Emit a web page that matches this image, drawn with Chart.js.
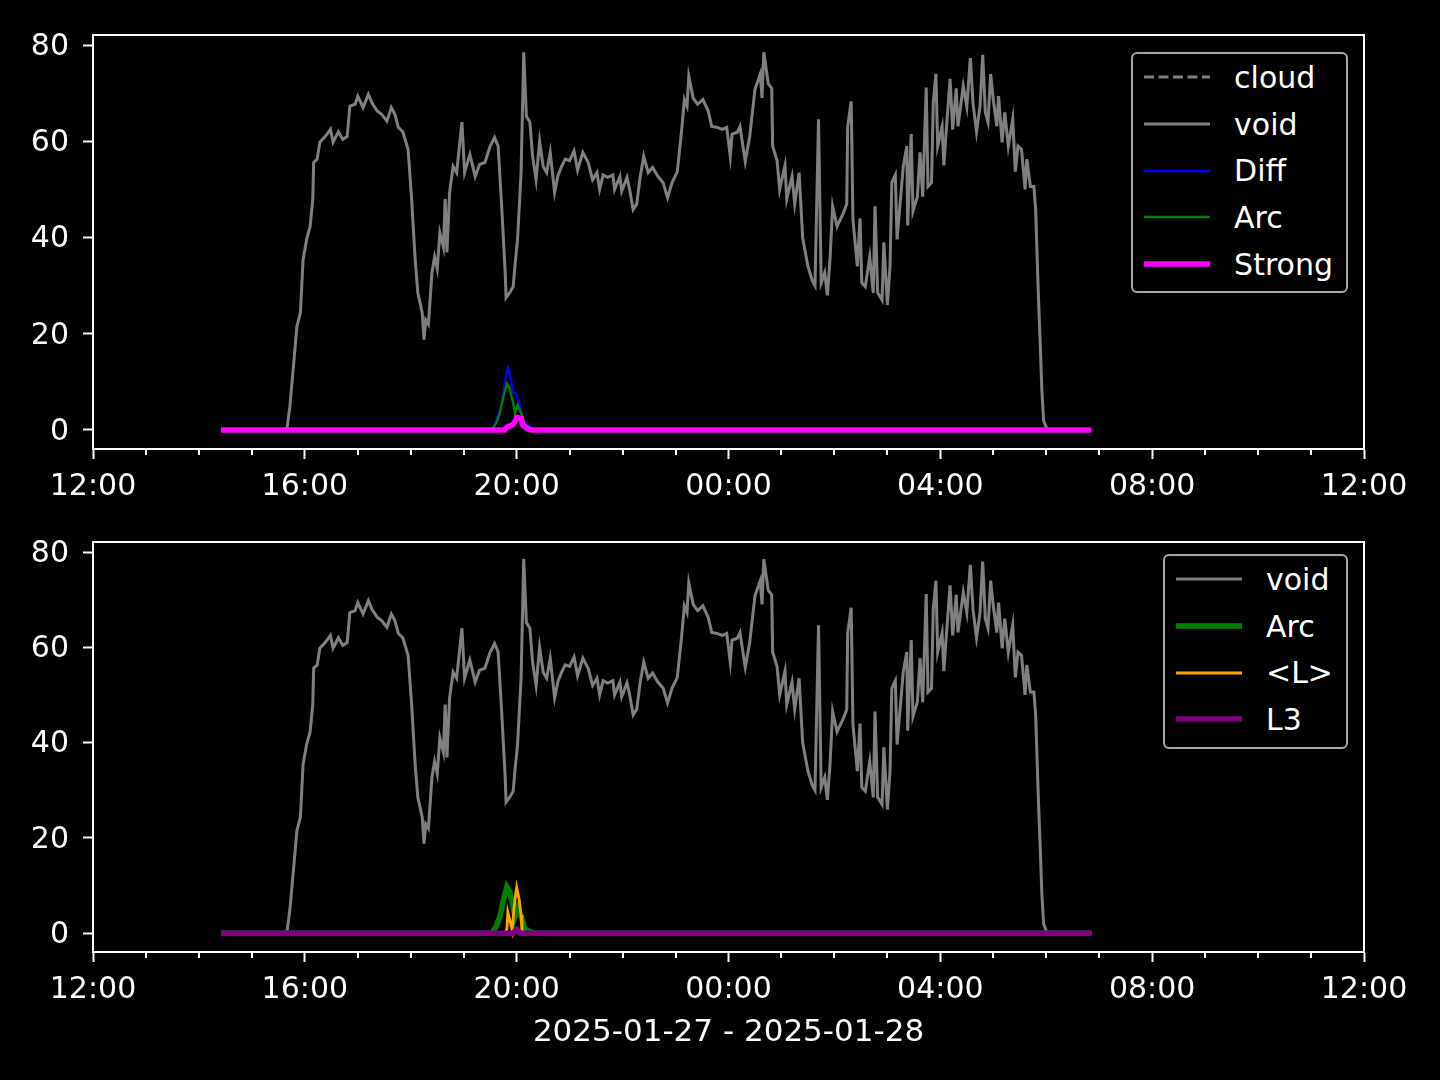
<!DOCTYPE html>
<html>
<head>
<meta charset="utf-8">
<script src="https://cdn.jsdelivr.net/npm/chart.js@4.4.1/dist/chart.umd.min.js"></script>
<style>
  html, body { margin: 0; padding: 0; background: #000; }
  body { width: 1440px; height: 1080px; position: relative; overflow: hidden; font-family: "DejaVu Sans", sans-serif; }
  .panel { position: absolute; left: 0; }
  .legend { position: absolute; border: 2px solid #a8a8a8; border-radius: 6px; background: #000; color: #fff;
            font-size: 30px; padding: 0 13px 4px 0; }
  .legend .row { display: flex; align-items: center; height: 46.7px; white-space: nowrap; }
  .legend svg { margin-left: 11px; margin-right: 24px; }
</style>
</head>
<body>
<canvas id="topChart" class="panel" style="top:0" width="1440" height="510"></canvas>
<canvas id="bottomChart" class="panel" style="top:510px" width="1440" height="570"></canvas>
<div class="legend" id="topLegend" style="right:92px; top:52px"></div>
<div class="legend" id="bottomLegend" style="right:92px; top:554px"></div>
<script>
// x values are minutes after 12:00 on 2025-01-27
const xMajorTicks = [0, 240, 480, 720, 960, 1200, 1440];
const xTickLabels = ["12:00", "16:00", "20:00", "00:00", "04:00", "08:00", "12:00"];
const yTicks = [0, 20, 40, 60, 80];
const xTitle = "2025-01-27 - 2025-01-28";

// [minute, value]
const voidSeries = [
  [145,0],[218,0],[220,0.6],[223,4.8],[227,13],[231,21.5],[235,24.4],[238,35.4],[242,39.6],[246,42.3],[249,48],
  [250,55.6],[254,56.3],[257,59.8],[263,61],[269,62.5],[272,59.8],[278,62],[283,60.4],[288,61],[291,67.3],
  [297,67.7],[300,69.4],[306,67],[312,69.8],[316,68],[322,66.3],[327,65.6],[333,64.2],[338,67],[342,65.6],
  [346,62.9],[351,62],[357,58.3],[361,48],[365,35.4],[368,28.5],[373,24.4],[375,18.8],[377,22.9],[380,22],
  [384,32.7],[387,36],[390,33.5],[393,41],[397,38],[399,48],[401,36.9],[404,49.4],[408,54.8],[412,53.5],
  [418,64],[421,53.5],[427,57.3],[433,52.7],[438,55.2],[444,55.6],[450,59],[455,60.8],[459,59],[463,46.5],
  [467,32.7],[468,27.5],[472,28.5],[476,29.8],[478,34],[481,39.6],[485,53.5],[488,78.5],[491,65.2],[495,64],
  [498,56.9],[502,52],[506,60],[510,54.8],[514,53.5],[518,57.7],[523,49.4],[527,53],[531,54.8],[535,56.3],
  [540,56],[545,58],[549,54],[555,57.7],[561,55.6],[566,52],[571,53.5],[574,50],[578,53],[583,52.5],
  [589,53],[591,50],[597,52.7],[599,49.6],[605,52.5],[608,50],[612,45.8],[616,47],[620,52.7],[624,56.9],
  [629,53.5],[634,54.6],[640,52.7],[646,51.4],[651,48.3],[656,51.4],[662,53.7],[667,62.5],[670,68.7],[673,67.3],
  [675,73.5],[680,69],[685,67.7],[691,68.7],[697,66.3],[701,63.1],[707,62.9],[713,62.5],[718,62.9],[722,56.9],
  [724,61.5],[730,61.9],[733,63.1],[739,55.8],[744,61],[750,70.8],[756,74],[758,69],[760,78.5],[765,72],
  [769,71],[770,59],[775,56],[778,50],[784,55],[786,48],[792,52.7],[795,47],[800,53.5],[804,40],
  [810,34],[815,31],[818,30],[822,64.6],[825,30.6],[829,32.7],[832,28],[835,35.4],[838,46.5],[843,42.3],
  [850,45],[854,47],[855,63],[859,68.3],[861,43.7],[866,34],[869,44],[871,30.6],[875,29.8],[880,36],
  [884,28.5],[886,46.5],[889,28.5],[894,27],[896,39],[900,26],[903,34],[905,51.4],[909,53],[911,39.6],
  [918,54.8],[922,59],[923,42.5],[927,61.5],[929,45.5],[934,48.5],[937,57.7],[940,48.5],[944,71.2],[946,50.6],
  [950,51.4],[952,68],[955,74],[957,59],[962,63],[964,55],[966,60.4],[971,73],[974,62.5],[978,71],
  [980,63.1],[986,71.5],[990,67.3],[994,77.3],[997,68],[1001,62],[1005,67.3],[1008,78],[1011,66],[1014,64],
  [1017,74],[1020,68.7],[1024,63.1],[1026,69.4],[1030,59.8],[1033,66],[1037,59],[1042,64.6],[1045,53.7],[1048,59],
  [1052,58.3],[1056,50],[1058,56.3],[1062,50.6],[1066,50.6],[1068,45.8],[1071,28.5],[1073,18.8],[1075,8.3],[1077,2],
  [1080,0.5],[1083,0],[1131,0]
];
const cloudSeries = [];
const diffSeries = [
  [145,0],[364,0],[365,0.3],[367,0],[392,0],[393,0.3],[395,0],[452,0],[457,2],[461,4.2],[464,6],[467,10.4],
  [470,12.9],[472,12],[476,7.7],[479,7.7],[483,5.6],[486,2.7],[492,1],[497,0.5],[502,0],[1131,0]
];
const arcSeries = [
  [145,0],[452,0],[457,1.5],[461,3.5],[465,7],[469,9.7],[472,8.7],[476,5.6],[478,3.5],[481,5.2],
  [486,3.1],[489,1],[495,0.3],[500,0],[1131,0]
];
const strongSeries = [
  [145,0],[466,0],[470,0.7],[475,1],[478,1.7],[480,2.6],[485,2.4],[487,1],[492,0.3],[497,0],[1131,0]
];
const meanLSeries = [
  [145,0],[467,0],[469,1],[470,4.4],[472,2.9],[475,0.6],[477,5.4],[480,9.6],[483,6.9],[485,3.8],
  [486,0.5],[490,0],[1131,0]
];
const l3Series = [[145,0],[476,0],[480,0.8],[484,0],[1131,0]];

const tickFont = { family: "DejaVu Sans", size: 30 };
const titleFont = { family: "DejaVu Sans", size: 31 };
const pts = s => s.map(([x, y]) => ({ x, y }));

// minor x ticks every hour, spines on all four sides
const axisExtras = {
  id: "axisExtras",
  afterDraw(chart) {
    const { ctx, chartArea: a, scales: { x } } = chart;
    ctx.save();
    ctx.strokeStyle = "#fff";
    ctx.lineWidth = 2;
    for (let m = 0; m <= 1440; m += 60) {
      if (m % 240 === 0) continue;
      const px = Math.round(x.getPixelForValue(m));
      ctx.beginPath();
      ctx.moveTo(px, a.bottom);
      ctx.lineTo(px, a.bottom + 6);
      ctx.stroke();
    }
    ctx.strokeRect(a.left, a.top, a.right - a.left, a.bottom - a.top);
    ctx.restore();
  }
};

function makeOptions(padTop, xAxisHeight, showTitle) {
  return {
    responsive: false,
    animation: false,
    layout: { padding: { left: 0, right: 76, top: padTop, bottom: 0 } },
    plugins: { legend: { display: false }, tooltip: { enabled: false } },
    elements: { point: { radius: 0 }, line: { tension: 0 } },
    scales: {
      x: {
        type: "linear", min: 0, max: 1440,
        afterBuildTicks: s => { s.ticks = xMajorTicks.map(v => ({ value: v })); },
        afterFit: s => { s.height = xAxisHeight; },
        ticks: { color: "#fff", font: tickFont, padding: 10, maxRotation: 0, autoSkip: false,
                 callback: (v, i) => xTickLabels[i] },
        grid: { drawOnChartArea: false, tickLength: 10, tickColor: "#fff", tickWidth: 2 },
        border: { display: true, color: "#fff", width: 2 },
        title: { display: showTitle, text: xTitle, color: "#fff", font: titleFont, padding: { top: 0, bottom: 28 } }
      },
      y: {
        min: -3.95, max: 82.1,
        afterBuildTicks: s => { s.ticks = yTicks.map(v => ({ value: v })); },
        afterFit: s => { s.width = 93; },
        ticks: { color: "#fff", font: tickFont, padding: 14, labelOffset: 2 },
        grid: { drawOnChartArea: false, tickLength: 10, tickColor: "#fff", tickWidth: 2 },
        border: { display: true, color: "#fff", width: 2 }
      }
    }
  };
}

function line(label, series, color, width, order, dash) {
  return { label, data: pts(series), borderColor: color, borderWidth: width, order,
           borderDash: dash || [], fill: false, pointRadius: 0 };
}

const topChart = new Chart(document.getElementById("topChart"), {
  type: "line",
  data: {
    datasets: [
      line("cloud", cloudSeries, "#808080", 2.8, 6, [10, 4.5]),
      line("void", voidSeries, "#808080", 3, 5),
      line("Diff", diffSeries, "#0000ff", 2.3, 4),
      line("Arc", arcSeries, "#008000", 2.3, 3),
      line("Strong", strongSeries, "#ff00ff", 5.6, 2)
    ]
  },
  options: makeOptions(35, 61, false),
  plugins: [axisExtras]
});

const bottomChart = new Chart(document.getElementById("bottomChart"), {
  type: "line",
  data: {
    datasets: [
      line("void", voidSeries, "#808080", 3, 5),
      line("Arc", arcSeries, "#008000", 5.6, 4),
      line("<L>", meanLSeries, "#ffa500", 2.8, 3),
      line("L3", l3Series, "#800080", 5.6, 2)
    ]
  },
  options: makeOptions(28, 128, true),
  plugins: [axisExtras]
});

function buildLegend(chart, el) {
  chart.data.datasets.forEach(ds => {
    const row = document.createElement("div");
    row.className = "row";
    const dash = ds.borderDash.length ? ` stroke-dasharray="${ds.borderDash.join(" ")}"` : "";
    row.innerHTML = `<svg width="66" height="12"><line x1="0" y1="6" x2="66" y2="6" stroke="${ds.borderColor}" stroke-width="${ds.borderWidth}"${dash}/></svg>`;
    const span = document.createElement("span");
    span.textContent = ds.label;
    row.appendChild(span);
    el.appendChild(row);
  });
}
buildLegend(topChart, document.getElementById("topLegend"));
buildLegend(bottomChart, document.getElementById("bottomLegend"));
</script>
</body>
</html>
